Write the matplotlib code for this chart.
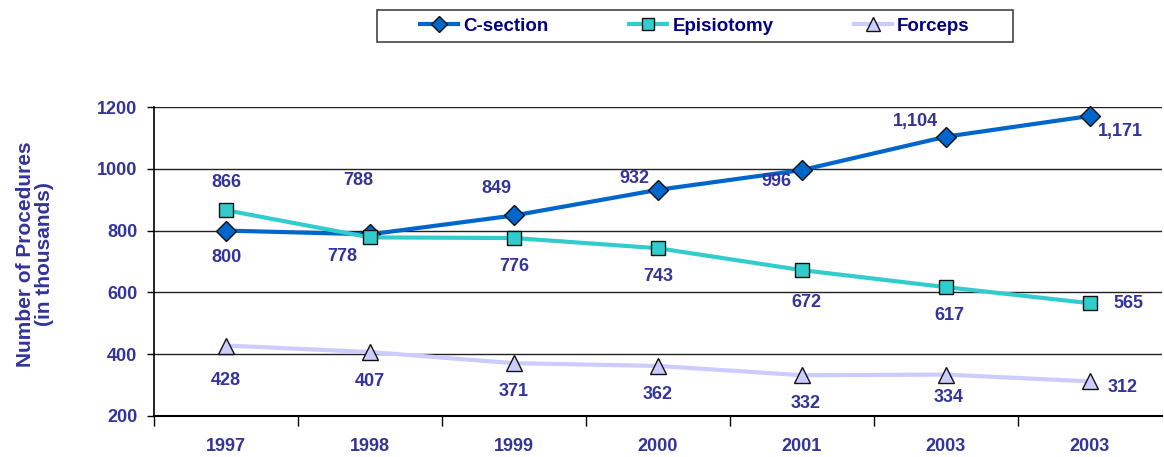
import matplotlib.pyplot as plt
from matplotlib.lines import Line2D
from matplotlib.patches import Rectangle

# data
years = ["1997", "1998", "1999", "2000", "2001", "2003", "2003"]
csection = [800, 788, 849, 932, 996, 1104, 1171]
episiotomy = [866, 778, 776, 743, 672, 617, 565]
forceps = [428, 407, 371, 362, 332, 334, 312]

# label offsets in pixels (dx, dy)
cs_off = [(0, -27), (-12, 54), (-18, 27), (-24, 11), (-26, -11), (-31, 15), (30, -16)]
ep_off = [(0, 28), (-28, -19), (0, -28), (0, -28), (4, -32), (3, -28), (38, 0)]
fo_off = [(0, -35), (0, -29), (0, -28), (0, -29), (4, -28), (3, -23), (33, -6)]

TXT = "#333399"
plt.rcParams["font.family"] = ["Liberation Sans", "DejaVu Sans"]
plt.rcParams["font.weight"] = "bold"

fig = plt.figure(figsize=(11.64, 4.57), dpi=100)
ax = fig.add_axes([154 / 1164, 41 / 457, 1008 / 1164, 309 / 457])

x = list(range(len(years)))
series = [
    ("C-section", csection, "#0066CC", "D", 10, "#0066CC", cs_off),
    ("Episiotomy", episiotomy, "#33CCCC", "s", 9.5, "#33CCCC", ep_off),
    ("Forceps", forceps, "#CCCCFF", "^", 11, "#CCCCFF", fo_off),
]
handles = []
for name, vals, col, mk, ms, fc, offs in series:
    ax.plot(x, vals, color=col, lw=3, marker=mk, ms=ms, mfc=fc, mec="#111111",
            mew=1, zorder=3, clip_on=False)
    handles.append(Line2D([], [], color=col, lw=3, marker=mk, ms=ms - 1.5, mfc=fc,
                          mec="#111111", mew=1, label=name))
    for xi, v, (dx, dy) in zip(x, vals, offs):
        ax.annotate(f"{v:,}", (xi, v), xytext=(dx, dy), textcoords="offset pixels",
                    ha="center", va="center", color=TXT, fontsize=13,
                    fontweight="bold")

ax.set_xlim(-0.5, len(years) - 0.5)
ax.set_ylim(200, 1200)
ax.set_yticks(range(200, 1201, 200))
ax.yaxis.grid(True, color="#222222", lw=1)
ax.set_axisbelow(True)
for s in ["top", "right"]:
    ax.spines[s].set_visible(False)
ax.spines["left"].set_linewidth(1.2)
ax.spines["bottom"].set_linewidth(1.5)

ax.set_xticks(x)
ax.set_xticklabels(years)
ax.set_xticks([i - 0.5 for i in range(len(years))], minor=True)
ax.tick_params(axis="x", which="major", length=0, pad=16, labelsize=13,
               labelcolor=TXT)
ax.tick_params(axis="x", which="minor", length=7, width=1)
ax.tick_params(axis="y", length=5, width=1, labelsize=13, labelcolor=TXT, pad=7)
for lab in ax.get_xticklabels() + ax.get_yticklabels():
    lab.set_fontweight("bold")

fig.text(35 / 1164, 1 - 254 / 457, "Number of Procedures\n(in thousands)",
         rotation=90, ha="center", va="center", color=TXT, fontsize=15,
         fontweight="bold", linespacing=1.0)

# legend box drawn separately so it can be wider than the entries
fig.patches.append(Rectangle((377 / 1164, 1 - 42 / 457), 636 / 1164, 32 / 457,
                             transform=fig.transFigure, fill=False,
                             edgecolor="#444444", lw=1.2))
leg = fig.legend(handles=handles, ncol=3, loc="center",
                 bbox_to_anchor=(695 / 1164, 1 - 26 / 457), frameon=False,
                 fontsize=13.5, handlelength=2.0, columnspacing=4.3,
                 handletextpad=0.3)
for t in leg.get_texts():
    t.set_color("#000080")
    t.set_fontweight("bold")

plt.savefig("out.png", dpi=100)
